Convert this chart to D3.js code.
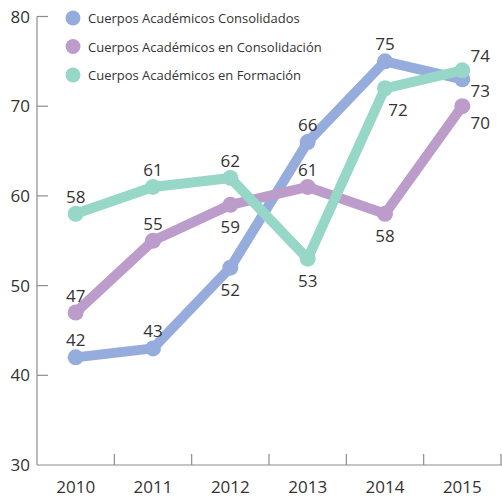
<!DOCTYPE html>
<html>
<head>
<meta charset="utf-8">
<script src="https://cdn.jsdelivr.net/npm/d3@7"></script>
<style>
  html, body { margin: 0; padding: 0; background: #fff; }
  svg { display: block; font-family: "Open Sans", "Noto Sans", sans-serif; }
</style>
</head>
<body>
<svg id="chart" width="502" height="498"></svg>
<script>
// ─── Data ────────────────────────────────────────────────────────────────────
const years = ['2010', '2011', '2012', '2013', '2014', '2015'];
const consolidados    = [42, 43, 52, 66, 75, 73];
const enConsolidacion = [47, 55, 59, 61, 58, 70];
const enFormacion     = [58, 61, 62, 53, 72, 74];
const yTicks = [30, 40, 50, 60, 70, 80];

// where each value label sits relative to its point
const placeConsolidados    = ['above', 'above', 'below', 'above', 'above', 'right'];
const placeEnConsolidacion = ['above', 'above', 'below', 'above', 'below', 'rightBelow'];
const placeEnFormacion     = ['above', 'above', 'above', 'below', 'belowRight', 'rightAbove'];

const series = [
  { name: 'Cuerpos Académicos Consolidados',     values: consolidados,    place: placeConsolidados,    color: '#96acdd' },
  { name: 'Cuerpos Académicos en Consolidación', values: enConsolidacion, place: placeEnConsolidacion, color: '#bc9ccb' },
  { name: 'Cuerpos Académicos en Formación',     values: enFormacion,     place: placeEnFormacion,     color: '#96d7c8' },
];

const offsets = {
  above:      { dx: 0,  dy: -11 },
  below:      { dx: 0,  dy: 28 },
  belowRight: { dx: 13, dy: 28 },
  right:      { dx: 18, dy: 18 },
  rightBelow: { dx: 18, dy: 23 },
  rightAbove: { dx: 18, dy: -8 },
};

// ─── Layout ──────────────────────────────────────────────────────────────────
const svg = d3.select('#chart');
const mLeft = 37, mRight = 501, mTop = 16.5, mBottom = 465;
const axisColor = '#8c8c8c';
const textColor = '#333333';

const x = d3.scaleBand().domain(years).range([mLeft, mRight]).padding(0);
const y = d3.scaleLinear().domain([30, 80]).range([mBottom, mTop]);
const cx = d => x(d) + x.bandwidth() / 2;

// ─── Axes ────────────────────────────────────────────────────────────────────
const axes = svg.append('g');
axes.append('line')
  .attr('x1', mLeft).attr('x2', mLeft)
  .attr('y1', y(80)).attr('y2', mBottom)
  .attr('stroke', axisColor).attr('stroke-width', 1.2);
axes.append('line')
  .attr('x1', mLeft).attr('x2', mRight + 1)
  .attr('y1', mBottom).attr('y2', mBottom)
  .attr('stroke', axisColor).attr('stroke-width', 1.2);

// y ticks point inward
axes.selectAll('.ytick')
  .data(yTicks.filter(v => v > 30))
  .join('line')
  .attr('x1', mLeft).attr('x2', mLeft + 11)
  .attr('y1', d => y(d)).attr('y2', d => y(d))
  .attr('stroke', axisColor).attr('stroke-width', 1.2);

axes.selectAll('.ylabel')
  .data(yTicks)
  .join('text')
  .attr('x', 30)
  .attr('y', d => y(d) + 6)
  .attr('text-anchor', 'end')
  .attr('fill', textColor)
  .style('font-size', '17px')
  .text(d => d);

// x ticks at band boundaries
axes.selectAll('.xtick')
  .data(years)
  .join('line')
  .attr('x1', d => x(d) + x.bandwidth())
  .attr('x2', d => x(d) + x.bandwidth())
  .attr('y1', mBottom).attr('y2', mBottom - 11)
  .attr('stroke', axisColor).attr('stroke-width', 1.2);

axes.selectAll('.xlabel')
  .data(years)
  .join('text')
  .attr('x', d => cx(d))
  .attr('y', 493)
  .attr('text-anchor', 'middle')
  .attr('fill', textColor)
  .style('font-size', '17px')
  .text(d => d);

// ─── Lines and dots ──────────────────────────────────────────────────────────
const line = d3.line()
  .x((d, i) => cx(years[i]))
  .y(d => y(d));

const plot = svg.append('g');
series.forEach(s => {
  const g = plot.append('g');
  g.append('path')
    .attr('d', line(s.values))
    .attr('fill', 'none')
    .attr('stroke', s.color)
    .attr('stroke-width', 10)
    .attr('stroke-linejoin', 'round');
  g.selectAll('circle')
    .data(s.values)
    .join('circle')
    .attr('cx', (d, i) => cx(years[i]))
    .attr('cy', d => y(d))
    .attr('r', 8)
    .attr('fill', s.color);
});

// ─── Value labels ────────────────────────────────────────────────────────────
const labels = svg.append('g');
series.forEach(s => {
  labels.append('g').selectAll('text')
    .data(s.values)
    .join('text')
    .attr('x', (d, i) => cx(years[i]) + offsets[s.place[i]].dx)
    .attr('y', (d, i) => y(d) + offsets[s.place[i]].dy)
    .attr('text-anchor', 'middle')
    .attr('fill', textColor)
    .style('font-size', '17px')
    .text(d => d);
});

// ─── Legend ──────────────────────────────────────────────────────────────────
const legend = svg.append('g').attr('transform', 'translate(73,18)');
const item = legend.selectAll('g')
  .data(series)
  .join('g')
  .attr('transform', (d, i) => `translate(0,${i * 28.5})`);
item.append('circle')
  .attr('r', 7.5)
  .attr('fill', d => d.color);
item.append('text')
  .attr('x', 15)
  .attr('y', 5)
  .attr('fill', textColor)
  .style('font-size', '13px')
  .text(d => d.name);
</script>
</body>
</html>
